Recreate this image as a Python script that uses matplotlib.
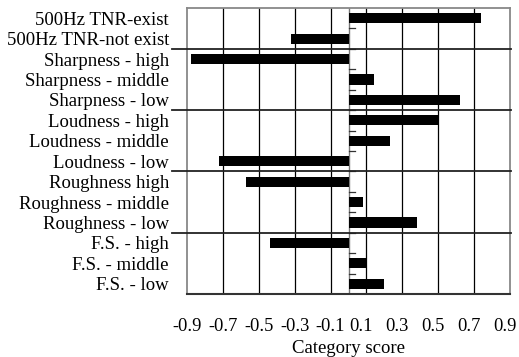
import matplotlib
matplotlib.use("Agg")
import matplotlib.pyplot as plt
from matplotlib.lines import Line2D
from matplotlib.transforms import ScaledTranslation

categories = [
    "500Hz TNR-exist", "500Hz TNR-not exist",
    "Sharpness - high", "Sharpness - middle", "Sharpness - low",
    "Loudness - high", "Loudness - middle", "Loudness - low",
    "Roughness high", "Roughness - middle", "Roughness - low",
    "F.S. - high", "F.S. - middle", "F.S. - low",
]
scores = [0.74, -0.32, -0.875, 0.14, 0.62, 0.50, 0.23, -0.72,
          -0.57, 0.08, 0.38, -0.44, 0.105, 0.20]
group_breaks = [2, 5, 8, 11]
xticks = [-0.9, -0.7, -0.5, -0.3, -0.1, 0.1, 0.3, 0.5, 0.7, 0.9]
xlabel = "Category score"

plt.rcParams['font.family'] = ['Liberation Serif', 'DejaVu Serif']
fig = plt.figure(figsize=(5.19, 3.57), dpi=100)
ax = fig.add_axes([187/519, 1-294/357, (510-187)/519, (294-8)/357])

n = len(categories)
ypos = list(range(n))
ax.barh(ypos, scores, height=0.5, color='black', zorder=3)
ax.set_ylim(n - 0.5, -0.5)
ax.set_xlim(-0.9, 0.9)

ax.set_xticks(xticks)
ax.set_xticklabels([f"{t:.1f}" for t in xticks], fontsize=13.3)
ax.tick_params(axis='x', length=0, pad=17)
shift = ScaledTranslation(-5/100, 0, fig.dpi_scale_trans)
for t, lab in zip(xticks, ax.get_xticklabels()):
    if t > 0:
        lab.set_transform(lab.get_transform() + shift)
ax.set_yticks(ypos)
ax.set_yticklabels(categories, fontsize=13.5)
ax.tick_params(axis='y', length=0, pad=13)
ax.set_xlabel(xlabel, fontsize=13.5, labelpad=4)

for t in xticks[1:-1]:
    ax.axvline(t, color='black', lw=0.9, zorder=1)
ax.axvline(0, color='#777777', lw=1.0, zorder=2)
# small tick marks on the zero axis between categories
for b in range(1, n):
    ax.plot([0, 0.035], [b - 0.5, b - 0.5], color='#333333', lw=0.9, zorder=2)

for b in group_breaks:
    y = b - 0.5
    line = Line2D([-0.045, 1.003], [y, y], color='#222222', lw=1.3,
                  transform=ax.get_yaxis_transform(), clip_on=False, zorder=4)
    ax.add_line(line)

for s in ['left', 'top', 'right']:
    ax.spines[s].set_color('#888888')
    ax.spines[s].set_linewidth(1.3)
ax.spines['bottom'].set_color('#333333')
ax.spines['bottom'].set_linewidth(1.5)

fig.savefig("out.png", dpi=100)
